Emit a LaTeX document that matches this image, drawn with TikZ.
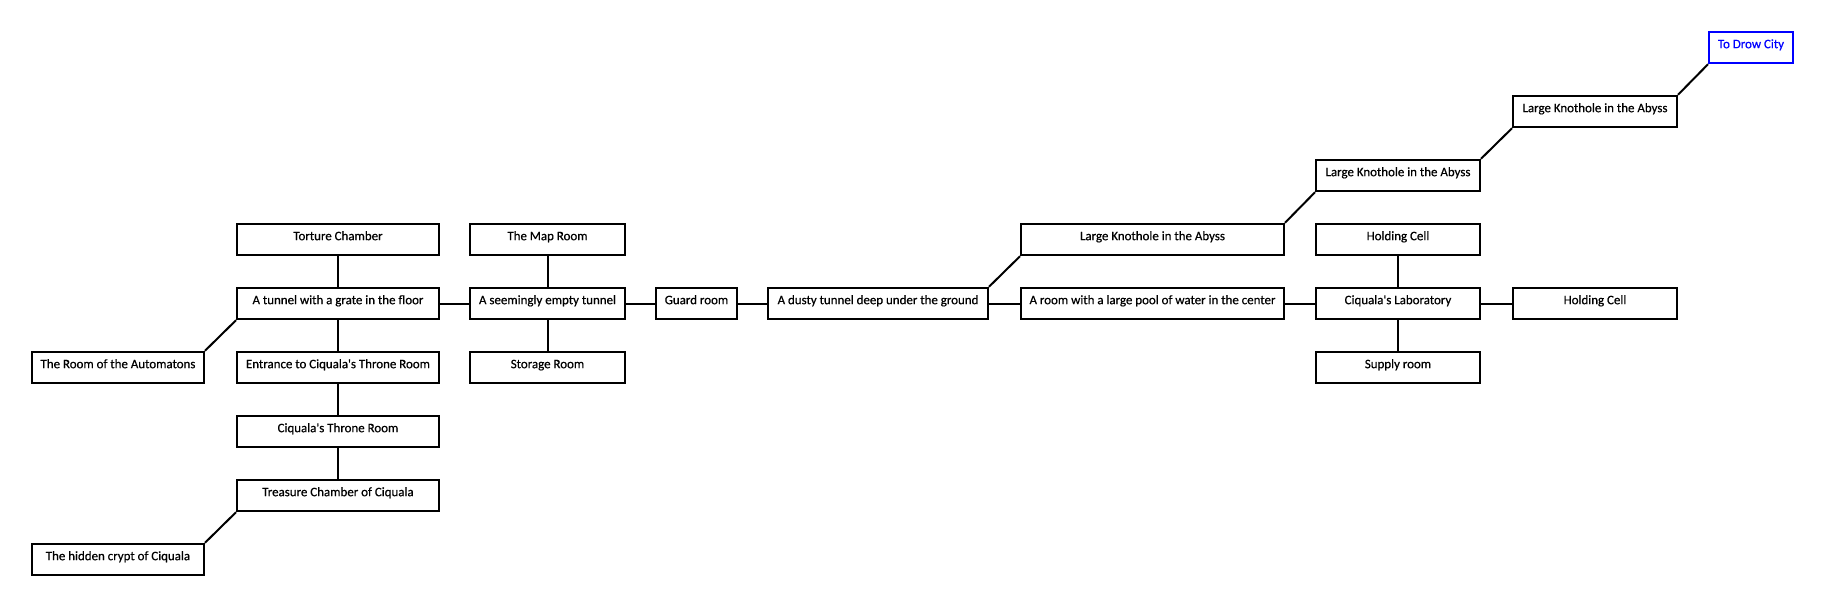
\documentclass[tikz,border=0pt]{standalone}
\usepackage{fontspec}
\setmainfont{Carlito}[FakeBold=0.6]
\usepackage{tikz}
\definecolor{drowblue}{RGB}{0,0,255}
\tikzset{
  roomnode/.style={draw=black,line width=1.5pt,minimum height=23.6pt,inner sep=1pt,text height=6pt,text depth=5pt,font=\fontsize{9.7}{11}\selectfont},
  exitnode/.style={roomnode,draw=drowblue,text=drowblue},
  passage/.style={line width=1.5pt,black},
}
\begin{document}
\begin{tikzpicture}[x=0.75pt,y=-0.75pt]
  \useasboundingbox (0,0) rectangle (1825,608);
  % west wing
  \node[roomnode,minimum width=151.5pt] (nTorture) at (338,239.5) {Torture Chamber};
  \node[roomnode,minimum width=151.5pt] (nGrate) at (338,303.5) {A tunnel with a grate in the floor};
  \node[roomnode,minimum width=129pt] (nAutomat) at (118,367.5) {The Room of the Automatons};
  \node[roomnode,minimum width=151.5pt] (nEntrance) at (338,367.5) {Entrance to Ciquala\textquotesingle s Throne Room};
  \node[roomnode,minimum width=151.5pt] (nThrone) at (338,431.5) {Ciquala\textquotesingle s Throne Room};
  \node[roomnode,minimum width=151.5pt] (nTreasure) at (338,495.5) {Treasure Chamber of Ciquala};
  \node[roomnode,minimum width=129pt] (nCrypt) at (118,559.5) {The hidden crypt of Ciquala};
  % middle
  \node[roomnode,minimum width=116.25pt] (nMap) at (547.5,239.5) {The Map Room};
  \node[roomnode,minimum width=116.25pt] (nEmpty) at (547.5,303.5) {A seemingly empty tunnel};
  \node[roomnode,minimum width=116.25pt] (nStorage) at (547.5,367.5) {Storage Room};
  \node[roomnode,minimum width=60.75pt] (nGuard) at (696.5,303.5) {Guard room};
  \node[roomnode,minimum width=165pt] (nDusty) at (878,303.5) {A dusty tunnel deep under the ground};
  % east wing
  \node[roomnode,minimum width=197.25pt] (nKnot1) at (1152.5,239.5) {Large Knothole in the Abyss};
  \node[roomnode,minimum width=197.25pt] (nPool) at (1152.5,303.5) {A room with a large pool of water in the center};
  \node[roomnode,minimum width=123pt] (nKnot2) at (1398,175.5) {Large Knothole in the Abyss};
  \node[roomnode,minimum width=123pt] (nCellN) at (1398,239.5) {Holding Cell};
  \node[roomnode,minimum width=123pt] (nLab) at (1398,303.5) {Ciquala\textquotesingle s Laboratory};
  \node[roomnode,minimum width=123pt] (nSupply) at (1398,367.5) {Supply room};
  \node[roomnode,minimum width=123pt] (nCellE) at (1595,303.5) {Holding Cell};
  \node[roomnode,minimum width=123pt] (nKnot3) at (1595,111.5) {Large Knothole in the Abyss};
  \node[exitnode,minimum width=63pt] (nDrow) at (1751,47.5) {To Drow City};
  % passages
  \draw[passage] (nTorture) -- (nGrate);
  \draw[passage] (nGrate) -- (nEntrance);
  \draw[passage] (nEntrance) -- (nThrone);
  \draw[passage] (nThrone) -- (nTreasure);
  \draw[passage] (nGrate.south west) -- (nAutomat.north east);
  \draw[passage] (nTreasure.south west) -- (nCrypt.north east);
  \draw[passage] (nGrate) -- (nEmpty);
  \draw[passage] (nMap) -- (nEmpty);
  \draw[passage] (nEmpty) -- (nStorage);
  \draw[passage] (nEmpty) -- (nGuard);
  \draw[passage] (nGuard) -- (nDusty);
  \draw[passage] (nDusty) -- (nPool);
  \draw[passage] (nDusty.north east) -- (nKnot1.south west);
  \draw[passage] (nKnot1.north east) -- (nKnot2.south west);
  \draw[passage] (nKnot2.north east) -- (nKnot3.south west);
  \draw[passage] (nKnot3.north east) -- (nDrow.south west);
  \draw[passage] (nPool) -- (nLab);
  \draw[passage] (nCellN) -- (nLab);
  \draw[passage] (nLab) -- (nSupply);
  \draw[passage] (nLab) -- (nCellE);
\end{tikzpicture}
\end{document}
